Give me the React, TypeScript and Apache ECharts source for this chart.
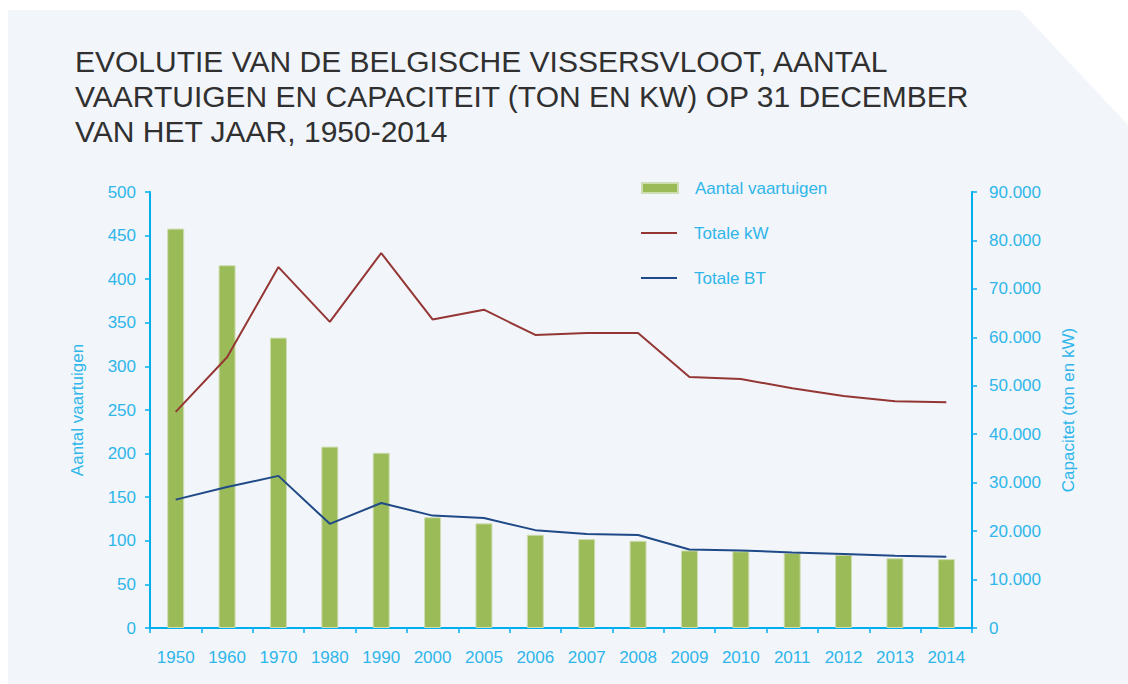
import React, { useEffect, useRef } from "react";
import * as echarts from "echarts";

const titleLines = [
  "EVOLUTIE VAN DE BELGISCHE VISSERSVLOOT, AANTAL",
  "VAARTUIGEN EN CAPACITEIT (TON EN KW) OP 31 DECEMBER",
  "VAN HET JAAR, 1950-2014",
];
const years = ["1950", "1960", "1970", "1980", "1990", "2000", "2005", "2006", "2007", "2008", "2009", "2010", "2011", "2012", "2013", "2014"];
const vaartuigen = [458, 416, 333, 208, 201, 127, 120, 107, 102, 100, 89, 88, 86, 84, 80, 79];
const totaleKW = [44600, 55900, 74500, 63200, 77400, 63700, 65700, 60500, 60900, 60900, 51800, 51400, 49500, 47900, 46800, 46600];
const totaleBT = [26500, 29100, 31400, 21500, 25800, 23200, 22700, 20200, 19400, 19200, 16200, 16000, 15600, 15300, 14900, 14700];
const seriesNames = ["Aantal vaartuigen", "Totale kW", "Totale BT"];
const leftAxisName = "Aantal vaartuigen";
const rightAxisName = "Capacitet (ton en kW)";

const AXIS = "#00aeef";
const TXT = "#2fb6ea";
const FONT = "Liberation Sans";
const KW_COLOR = "#943634";
const BT_COLOR = "#1f4a87";

export default function App() {
  const ref = useRef<HTMLDivElement>(null);
  useEffect(() => {
    const chart = echarts.init(ref.current!, null, { renderer: "svg" });
    const legendBase = {
      orient: "vertical",
      left: 636,
      itemWidth: 36,
      textStyle: { color: TXT, fontSize: 17, fontFamily: FONT, lineHeight: 20, padding: [0, 0, 0, 12] },
      selectedMode: false,
    };
    const lineIcon = "path://M0,0h36v2h-36z";
    chart.setOption({
      animation: false,
      graphic: [
        {
          type: "polygon",
          z: -10,
          shape: { points: [[8, 10], [1020, 10], [1128, 125], [1128, 684], [8, 684]] },
          style: { fill: "#f2f5fa" },
        },
      ],
      title: {
        text: titleLines.join("\n"),
        left: 70,
        top: 39,
        textStyle: { color: "#303030", fontSize: 30, fontWeight: "normal", fontFamily: FONT, lineHeight: 35 },
      },
      legend: [
        { ...legendBase, top: 173, itemHeight: 10, data: [{ name: seriesNames[0], icon: "rect" }] },
        { ...legendBase, top: 218, itemHeight: 2, data: [{ name: seriesNames[1], icon: lineIcon, itemStyle: { color: KW_COLOR } }] },
        { ...legendBase, top: 263, itemHeight: 2, data: [{ name: seriesNames[2], icon: lineIcon, itemStyle: { color: BT_COLOR } }] },
      ],
      grid: { left: 150, right: 156, top: 192, bottom: 56, containLabel: false },
      xAxis: {
        type: "category",
        data: years,
        boundaryGap: true,
        axisLine: { lineStyle: { color: AXIS, width: 2 } },
        axisTick: { show: true, length: 5, lineStyle: { color: AXIS, width: 1.5 } },
        axisLabel: { color: TXT, fontSize: 17, fontFamily: FONT, margin: 21, interval: 0 },
      },
      yAxis: [
        {
          type: "value",
          min: 0,
          max: 500,
          interval: 50,
          name: leftAxisName,
          nameLocation: "middle",
          nameRotate: 90,
          nameGap: 64,
          nameTextStyle: { color: TXT, fontSize: 17, fontFamily: FONT },
          axisLine: { show: true, lineStyle: { color: AXIS, width: 2 } },
          axisTick: { show: true, length: 5, lineStyle: { color: AXIS, width: 1.5 } },
          axisLabel: { color: TXT, fontSize: 17, fontFamily: FONT, margin: 14 },
          splitLine: { show: false },
        },
        {
          type: "value",
          min: 0,
          max: 90000,
          interval: 10000,
          position: "right",
          name: rightAxisName,
          nameLocation: "middle",
          nameRotate: 90,
          nameGap: 88,
          nameTextStyle: { color: TXT, fontSize: 17, fontFamily: FONT },
          axisLine: { show: true, lineStyle: { color: AXIS, width: 2 } },
          axisTick: { show: true, length: 5, lineStyle: { color: AXIS, width: 1.5 } },
          axisLabel: {
            color: TXT,
            fontSize: 17,
            fontFamily: FONT,
            margin: 17,
            formatter: (v: number) => (v === 0 ? "0" : String(v).replace(/\B(?=(\d{3})+(?!\d))/g, ".")),
          },
          splitLine: { show: false },
        },
      ],
      series: [
        {
          name: seriesNames[0],
          type: "bar",
          yAxisIndex: 0,
          data: vaartuigen,
          barWidth: 17,
          itemStyle: { color: "#9bbb59", borderColor: "#cfddb3", borderWidth: 1 },
        },
        {
          name: seriesNames[1],
          type: "line",
          yAxisIndex: 1,
          data: totaleKW,
          symbol: "none",
          lineStyle: { color: KW_COLOR, width: 2 },
          itemStyle: { color: KW_COLOR },
        },
        {
          name: seriesNames[2],
          type: "line",
          yAxisIndex: 1,
          data: totaleBT,
          symbol: "none",
          lineStyle: { color: BT_COLOR, width: 2 },
          itemStyle: { color: BT_COLOR },
        },
      ],
    });
    return () => chart.dispose();
  }, []);
  return <div ref={ref} style={{ position: "absolute", left: 0, top: 0, width: 1128, height: 684 }} />;
}
